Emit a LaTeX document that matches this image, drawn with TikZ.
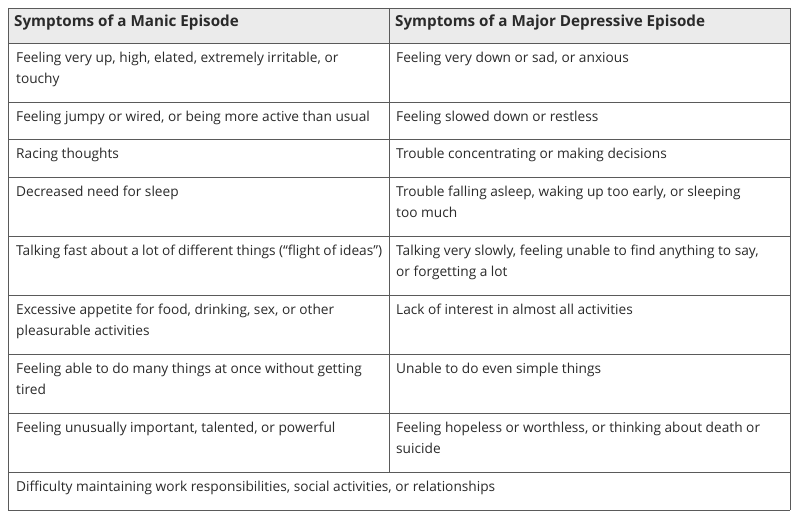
\documentclass[tikz,border=0pt]{standalone}
\usepackage{fontspec}
\setmainfont{Open Sans}
\definecolor{hdr}{HTML}{EBEBEB}
\definecolor{rule}{HTML}{5A5A5A}
\definecolor{txt}{HTML}{2A2A2A}
\begin{document}
\begin{tikzpicture}[x=1pt,y=-1pt,
  cell/.style={anchor=north west,inner sep=0pt,text width=366pt,align=flush left,font=\fontsize{13.7}{20.5}\selectfont,text=txt,execute at begin node={\hyphenpenalty=10000\relax}},
  head/.style={cell,font=\fontsize{15.2}{20}\selectfont\bfseries}]
\useasboundingbox (0,0) rectangle (800,518);
\fill[hdr] (8,8) rectangle (790,43);
\def\ys{8,43,102,139,177,236,295,354,413,472,510}
\foreach \y in \ys {\draw[rule,line width=0.8pt] (8,\y) -- (790,\y);}
\draw[rule,line width=0.8pt] (8,8) -- (8,510) (790,8) -- (790,510) (389,8) -- (389,472);
\node[head] (h1) at (14,15) {Symptoms of a Manic Episode};
\node[head] (h2) at (395,15) {Symptoms of a Major Depressive Episode};
\node[cell] (a1) at (16,52) {Feeling very up, high, elated, extremely irritable, or touchy};
\node[cell] (b1) at (396,52) {Feeling very down or sad, or anxious};
\node[cell] (a2) at (16,111) {Feeling jumpy or wired, or being more active than usual};
\node[cell] (b2) at (396,111) {Feeling slowed down or restless};
\node[cell] (a3) at (16,148) {Racing thoughts};
\node[cell] (b3) at (396,148) {Trouble concentrating or making decisions};
\node[cell] (a4) at (16,186) {Decreased need for sleep};
\node[cell] (b4) at (396,186) {Trouble falling asleep, waking up too early, or sleeping too much};
\node[cell] (a5) at (16,245) {Talking fast about a lot of different things (“flight of ideas”)};
\node[cell] (b5) at (396,245) {Talking very slowly, feeling unable to find anything to say, or forgetting a lot};
\node[cell] (a6) at (16,304) {Excessive appetite for food, drinking, sex, or other pleasurable activities};
\node[cell] (b6) at (396,304) {Lack of interest in almost all activities};
\node[cell] (a7) at (16,363) {Feeling able to do many things at once without getting tired};
\node[cell] (b7) at (396,363) {Unable to do even simple things};
\node[cell] (a8) at (16,422) {Feeling unusually important, talented, or powerful};
\node[cell] (b8) at (396,422) {Feeling hopeless or worthless, or thinking about death or suicide};
\node[cell,text width=770pt] (c9) at (16,481) {Difficulty maintaining work responsibilities, social activities, or relationships};
\end{tikzpicture}
\end{document}
